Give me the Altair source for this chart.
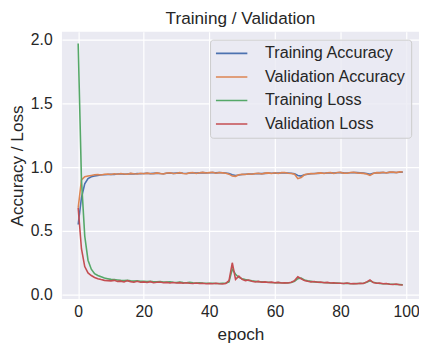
import altair as alt
import pandas as pd

epochs = list(range(100))

train_acc = [
    0.55, 0.76, 0.87, 0.91, 0.925, 0.93, 0.935, 0.94, 0.94, 0.942,
    0.945, 0.943, 0.946, 0.948, 0.945, 0.947, 0.949, 0.946, 0.95, 0.948,
    0.95, 0.952, 0.949, 0.951, 0.953, 0.95, 0.948, 0.952, 0.954, 0.951,
    0.953, 0.955, 0.952, 0.95, 0.954, 0.956, 0.953, 0.955, 0.957, 0.955,
    0.956, 0.958, 0.955, 0.957, 0.956, 0.954, 0.95, 0.94, 0.935, 0.938,
    0.942, 0.945, 0.947, 0.946, 0.948, 0.95, 0.949, 0.951, 0.953, 0.952,
    0.954, 0.953, 0.955, 0.956, 0.954, 0.952, 0.948, 0.935, 0.93, 0.94,
    0.945, 0.948, 0.95, 0.951, 0.953, 0.952, 0.954, 0.955, 0.953, 0.956,
    0.957, 0.955, 0.954, 0.956, 0.958, 0.957, 0.955, 0.953, 0.95, 0.945,
    0.952, 0.955, 0.957, 0.958, 0.956, 0.959, 0.96, 0.958, 0.96, 0.961,
]

val_acc = [
    0.68, 0.9, 0.925, 0.93, 0.935, 0.94, 0.942, 0.938, 0.944, 0.946,
    0.942, 0.948, 0.945, 0.95, 0.947, 0.944, 0.951, 0.948, 0.946, 0.952,
    0.949, 0.953, 0.95, 0.948, 0.955, 0.951, 0.946, 0.954, 0.956, 0.95,
    0.952, 0.957, 0.95, 0.948, 0.955, 0.958, 0.951, 0.956, 0.959, 0.954,
    0.957, 0.96, 0.953, 0.958, 0.955, 0.952, 0.945, 0.93, 0.928, 0.94,
    0.945, 0.943, 0.948, 0.944, 0.95, 0.952, 0.947, 0.953, 0.955, 0.95,
    0.956, 0.951, 0.957, 0.958, 0.952, 0.95, 0.944, 0.91, 0.918, 0.94,
    0.946, 0.95, 0.948, 0.953, 0.955, 0.95, 0.956, 0.957, 0.951, 0.958,
    0.959, 0.953, 0.952, 0.958, 0.96, 0.955, 0.953, 0.951, 0.946, 0.935,
    0.95, 0.957, 0.955, 0.96, 0.954, 0.961, 0.962, 0.957, 0.963, 0.962,
]

train_loss = [
    1.97, 0.9, 0.46, 0.27, 0.2, 0.165, 0.15, 0.14, 0.13, 0.125,
    0.12, 0.118, 0.115, 0.112, 0.11, 0.112, 0.108, 0.106, 0.108, 0.105,
    0.104, 0.102, 0.105, 0.101, 0.1, 0.102, 0.099, 0.098, 0.1, 0.097,
    0.096, 0.098, 0.095, 0.094, 0.096, 0.093, 0.092, 0.094, 0.091, 0.09,
    0.089, 0.09, 0.088, 0.087, 0.089, 0.09, 0.1, 0.2, 0.16, 0.135,
    0.125, 0.118, 0.112, 0.108, 0.105, 0.102, 0.1, 0.098, 0.097, 0.095,
    0.094, 0.095, 0.093, 0.092, 0.094, 0.096, 0.105, 0.125, 0.13, 0.115,
    0.108, 0.104, 0.1, 0.098, 0.096, 0.095, 0.093, 0.092, 0.09, 0.091,
    0.089, 0.088, 0.09, 0.087, 0.086, 0.088, 0.087, 0.09, 0.098, 0.108,
    0.098, 0.092, 0.088, 0.086, 0.085, 0.083, 0.082, 0.08, 0.079, 0.078,
]

val_loss = [
    0.68, 0.36, 0.22, 0.17, 0.15, 0.135, 0.125, 0.118, 0.112, 0.11,
    0.108, 0.112, 0.104, 0.106, 0.1, 0.11, 0.102, 0.098, 0.105, 0.097,
    0.1, 0.096, 0.102, 0.094, 0.097, 0.099, 0.093, 0.096, 0.092, 0.095,
    0.091, 0.094, 0.09, 0.093, 0.089, 0.088, 0.092, 0.087, 0.089, 0.086,
    0.087, 0.085, 0.089, 0.086, 0.084, 0.088, 0.11, 0.25, 0.12, 0.145,
    0.12, 0.11, 0.115, 0.105, 0.1, 0.104, 0.097, 0.1, 0.095, 0.098,
    0.093, 0.096, 0.092, 0.094, 0.091, 0.097, 0.11, 0.14, 0.125, 0.11,
    0.105, 0.1, 0.103, 0.097, 0.099, 0.094, 0.096, 0.091, 0.093, 0.089,
    0.09, 0.087, 0.091, 0.086, 0.088, 0.085, 0.09, 0.088, 0.1, 0.115,
    0.095, 0.09, 0.092, 0.085, 0.087, 0.082, 0.08, 0.083, 0.078, 0.076,
]

series_names = ["Training Accuracy", "Validation Accuracy", "Training Loss", "Validation Loss"]
series_values = [train_acc, val_acc, train_loss, val_loss]
series_colors = ["#4c72b0", "#dd8452", "#55a868", "#c44e52"]

x_ticks = [0, 20, 40, 60, 80, 100]
y_ticks = [0.0, 0.5, 1.0, 1.5, 2.0]

rows = []
for name, vals in zip(series_names, series_values):
    for e, v in zip(epochs, vals):
        rows.append({"epoch": e, "value": v, "series": name})
df = pd.DataFrame(rows)

FONT = "Liberation Sans"
TEXT = "#262626"

chart = (
    alt.Chart(df)
    .mark_line(strokeWidth=1.6)
    .encode(
        x=alt.X(
            "epoch:Q",
            scale=alt.Scale(domain=[-4.95, 103.95], nice=False, zero=False),
            axis=alt.Axis(values=x_ticks, title="epoch", labelPadding=5, titlePadding=6),
        ),
        y=alt.Y(
            "value:Q",
            scale=alt.Scale(domain=[-0.035, 2.0615], nice=False, zero=False),
            axis=alt.Axis(values=y_ticks, format=".1f", title="Accuracy / Loss",
                          labelPadding=10, titlePadding=4),
        ),
        color=alt.Color(
            "series:N",
            scale=alt.Scale(domain=series_names, range=series_colors),
            sort=series_names,
            legend=alt.Legend(
                orient="none", legendX=151, legendY=8, title=None,
                symbolType="M-1,0H3", symbolSize=256, symbolStrokeWidth=1.6,
                labelFontSize=16.5, labelFont=FONT, labelColor=TEXT,
                labelOffset=33, rowPadding=6, padding=5, labelLimit=300,
                fillColor="rgba(234,234,242,0.8)", strokeColor="#cccccc",
                cornerRadius=3,
            ),
        ),
    )
    .properties(
        width=364,
        height=272.5,
        padding={"left": 55, "top": 21, "right": 0, "bottom": 43.5},
        autosize=alt.AutoSizeParams(type="none"),
        title=alt.Title(
            "Training / Validation", fontSize=17.5, font=FONT, fontWeight="normal",
            color=TEXT, frame="group", offset=6, dy=16, baseline="alphabetic",
        ),
    )
    .configure_view(fill="#eaeaf2", stroke=None)
    .configure_axis(
        grid=True, gridColor="white", gridWidth=1.2, domain=False, ticks=False,
        tickSize=0, labelFont=FONT, labelFontSize=16, labelColor=TEXT,
        titleFont=FONT, titleFontSize=17.5, titleColor=TEXT, titleFontWeight="normal",
    )
)

chart.save("out.html", embed_options={"renderer": "svg", "actions": False})
